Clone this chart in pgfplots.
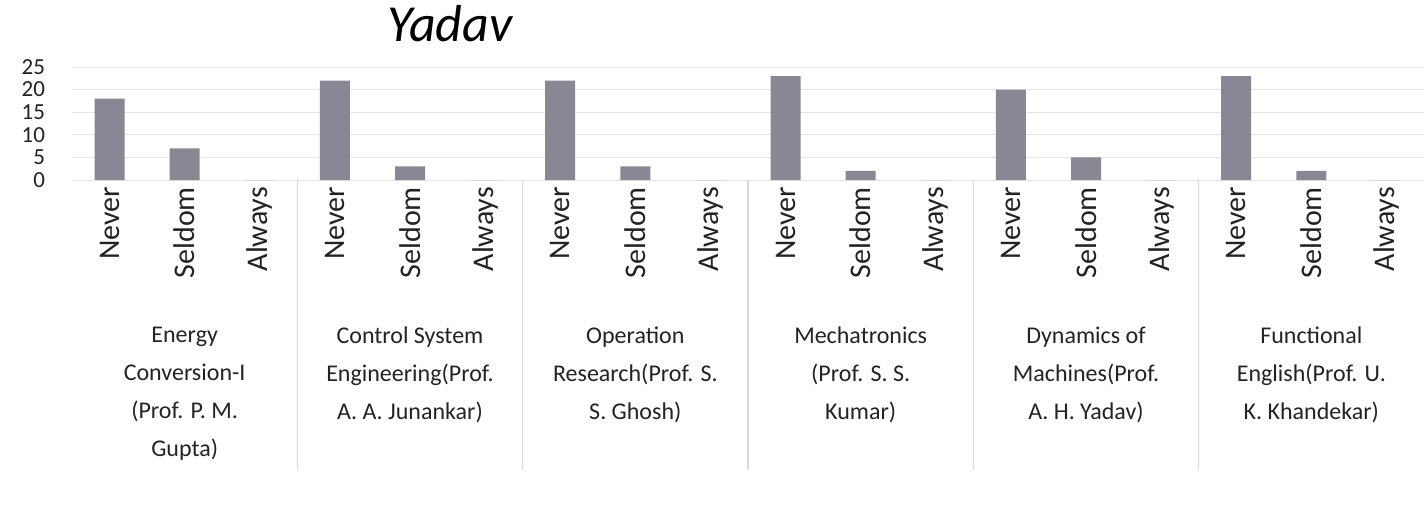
\documentclass[border=0pt]{standalone}
\usepackage{pgfplots}
\pgfplotsset{compat=1.18}
\usepackage{pgfplotstable}
\usepackage{fontspec}
\setmainfont{Carlito}
\definecolor{barc}{RGB}{136,136,148}
\definecolor{sepc}{RGB}{218,218,218}
\definecolor{gridc}{RGB}{228,228,228}
\definecolor{txt}{RGB}{35,35,35}

\pgfplotstableread{
x y
0 18
1 7
2 0
3 22
4 3
5 0
6 22
7 3
8 0
9 23
10 2
11 0
12 20
13 5
14 0
15 23
16 2
17 0
}\data

\begin{document}
\begin{tikzpicture}
\path[use as bounding box] (0,0) rectangle (712pt,255pt);
\clip (0,0) rectangle (712pt,255pt);
\node[anchor=base, font=\fontsize{26}{26}\selectfont\itshape, text=black] at (225pt,234pt) {Yadav};
\begin{axis}[
  at={(36pt,165pt)}, anchor=south west,
  scale only axis, width=676pt, height=56.5pt,
  xmin=-0.5, xmax=17.5, ymin=0, ymax=25,
  clip=false,
  axis line style={draw=none},
  tick style={draw=none},
  ymajorgrids, grid style={gridc, line width=0.5pt},
  ytick={0,5,...,25},
  y tick label style={xshift=-10pt, font=\fontsize{11.5}{11.5}\selectfont, text=txt},
  /pgf/number format/assume math mode=true,
  xtick={0,...,17},
  xticklabels={Never,Seldom,Always,Never,Seldom,Always,Never,Seldom,Always,Never,Seldom,Always,Never,Seldom,Always,Never,Seldom,Always},
  x tick label style={rotate=90, anchor=east, font=\fontsize{15}{15}\selectfont, text=txt},
]
\addplot[ybar, bar width=15pt, fill=barc, draw=none] table[x=x, y=y] {\data};
\draw[sepc, line width=0.6pt] (axis cs:2.5,0) -- ([yshift=-145pt]axis cs:2.5,0);
\draw[sepc, line width=0.6pt] (axis cs:5.5,0) -- ([yshift=-145pt]axis cs:5.5,0);
\draw[sepc, line width=0.6pt] (axis cs:8.5,0) -- ([yshift=-145pt]axis cs:8.5,0);
\draw[sepc, line width=0.6pt] (axis cs:11.5,0) -- ([yshift=-145pt]axis cs:11.5,0);
\draw[sepc, line width=0.6pt] (axis cs:14.5,0) -- ([yshift=-145pt]axis cs:14.5,0);
\tikzset{grp/.style={anchor=north, align=center, font=\fontsize{12}{19}\selectfont, text=txt, yshift=-70pt}}
\node[grp] at (axis cs:1,0) {Energy\\Conversion-I\\(Prof. P. M.\\Gupta)};
\node[grp] at (axis cs:4,0) {Control System\\Engineering(Prof.\\A. A. Junankar)};
\node[grp] at (axis cs:7,0) {Operation\\Research(Prof. S.\\S. Ghosh)};
\node[grp] at (axis cs:10,0) {Mechatronics\\(Prof. S. S.\\Kumar)};
\node[grp] at (axis cs:13,0) {Dynamics of\\Machines(Prof.\\A. H. Yadav)};
\node[grp] at (axis cs:16,0) {Functional\\English(Prof. U.\\K. Khandekar)};
\end{axis}
\end{tikzpicture}
\end{document}
